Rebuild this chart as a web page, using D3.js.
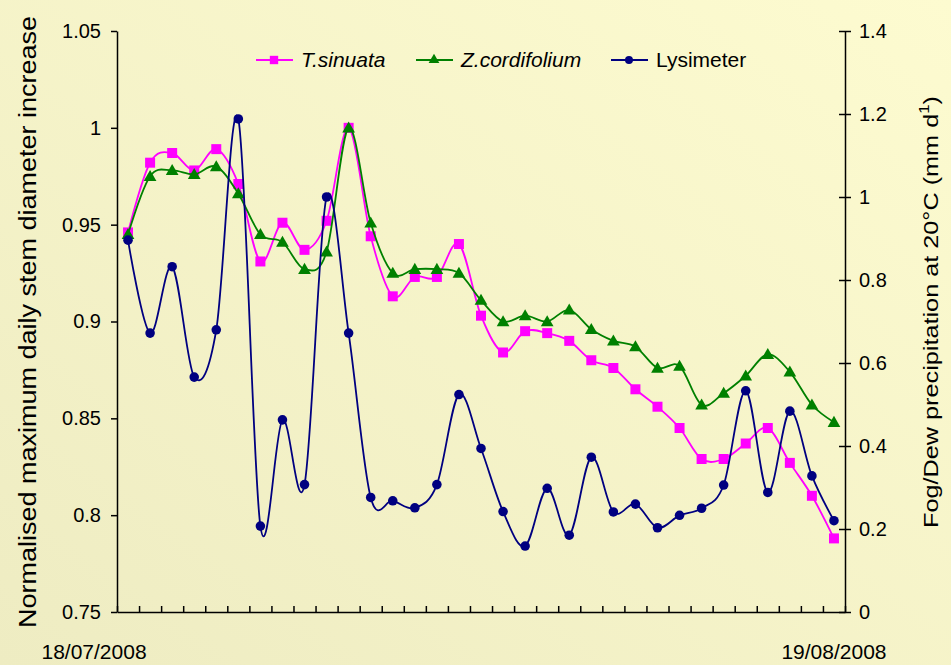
<!DOCTYPE html>
<html>
<head>
<meta charset="utf-8">
<script src="https://cdn.jsdelivr.net/npm/d3@7"></script>
<style>
  html, body { margin: 0; padding: 0; }
  body { width: 951px; height: 665px; overflow: hidden; }
  svg text { font-family: "Liberation Sans", Arial, sans-serif; fill: #000; }
  .axis path, .axis line { stroke: #000; stroke-width: 1.5; }
  .axis text { font-size: 20px; }
</style>
</head>
<body>
<div id="chart"></div>
<script>
// Categories: one per day, 18/07/2008 .. 19/08/2008
const days = d3.timeDays(new Date(2008, 6, 18), new Date(2008, 7, 20));

// Normalised maximum daily stem diameter increase (left axis)
const tSinuata = [0.946, 0.982, 0.987, 0.978, 0.989, 0.971, 0.931, 0.951, 0.937, 0.952,
    1.000, 0.944, 0.913, 0.923, 0.923, 0.940, 0.903, 0.884, 0.895, 0.894,
    0.890, 0.880, 0.876, 0.865, 0.856, 0.845, 0.829, 0.829, 0.837, 0.845,
    0.827, 0.810, 0.788];
const zCordifolium = [0.945, 0.975, 0.978, 0.976, 0.980, 0.966, 0.945, 0.941, 0.927, 0.936,
    1.000, 0.951, 0.925, 0.927, 0.927, 0.925, 0.911, 0.900, 0.903, 0.900,
    0.906, 0.896, 0.890, 0.887, 0.876, 0.877, 0.857, 0.863, 0.872, 0.883,
    0.874, 0.857, 0.848];

// Fog/Dew precipitation (right axis)
const lysimeter = [0.896, 0.672, 0.832, 0.566, 0.680, 1.188, 0.207, 0.463, 0.307, 1.000,
    0.672, 0.276, 0.268, 0.251, 0.307, 0.524, 0.394, 0.242, 0.159, 0.298,
    0.185, 0.373, 0.241, 0.260, 0.203, 0.233, 0.250, 0.306, 0.533, 0.288,
    0.484, 0.328, 0.220];

const leftTicks = [0.75, 0.8, 0.85, 0.9, 0.95, 1, 1.05];
const rightTicks = [0, 0.2, 0.4, 0.6, 0.8, 1, 1.2, 1.4];

const chart = {
    totalWidth: 951,
    totalHeight: 665,
    margin: { top: 31, bottom: 53, left: 117, right: 106 }
};
chart.width = chart.totalWidth - chart.margin.left - chart.margin.right;
chart.height = chart.totalHeight - chart.margin.top - chart.margin.bottom;

const svg = d3.select('#chart')
    .append('svg')
    .attr('width', chart.totalWidth)
    .attr('height', chart.totalHeight);

// Background gradient
const grad = svg.append('defs').append('linearGradient')
    .attr('id', 'bg')
    .attr('x1', '0%').attr('y1', '100%')
    .attr('x2', '100%').attr('y2', '0%');
grad.append('stop').attr('offset', '0%').attr('stop-color', '#eeecc2');
grad.append('stop').attr('offset', '100%').attr('stop-color', '#fdfbd0');

svg.append('rect')
    .attr('width', chart.totalWidth)
    .attr('height', chart.totalHeight)
    .attr('fill', 'url(#bg)');

const g = svg.append('g')
    .attr('transform', `translate(${chart.margin.left}, ${chart.margin.top})`);

// Scales
const xScale = d3.scalePoint()
    .domain(d3.range(days.length))
    .range([0, chart.width])
    .padding(0.5);

const xEdge = d3.scaleLinear()
    .domain([0, days.length])
    .range([0, chart.width]);

const yLeft = d3.scaleLinear()
    .domain([0.75, 1.05])
    .range([chart.height, 0]);

const yRight = d3.scaleLinear()
    .domain([0, 1.4])
    .range([chart.height, 0]);

// Axes
g.append('g')
    .classed('axis', true)
    .call(d3.axisLeft(yLeft)
        .tickValues(leftTicks)
        .tickSize(6)
        .tickPadding(10)
        .tickSizeOuter(0)
        .tickFormat(d => String(+d.toFixed(2))));

const rAxis = g.append('g')
    .classed('axis', true)
    .attr('transform', `translate(${chart.width}, 0)`)
    .call(d3.axisRight(yRight)
        .tickValues(rightTicks)
        .tickSize(6)
        .tickPadding(8)
        .tickSizeOuter(0)
        .tickFormat(d => String(+d.toFixed(1))));
rAxis.selectAll('.tick line').attr('x1', -6);

g.append('g')
    .classed('axis', true)
    .attr('transform', `translate(0, ${chart.height})`)
    .call(d3.axisBottom(xEdge)
        .tickValues(d3.range(days.length + 1))
        .tickSize(-6)
        .tickSizeOuter(0)
        .tickFormat(''));

g.selectAll('.axis text').attr('font-size', 20);

// Date labels (first and last day)
const fmt = d3.timeFormat('%d/%m/%Y');
[0, days.length - 1].forEach((idx, k) => {
    g.append('text')
        .attr('x', xScale(idx) + (k === 0 ? -34 : 0))
        .attr('y', chart.height + 47)
        .attr('text-anchor', 'middle')
        .attr('font-size', 21)
        .text(fmt(days[idx]));
});

// Axis titles
svg.append('text')
    .attr('transform', `translate(36, 322) rotate(-90)`)
    .attr('text-anchor', 'middle')
    .attr('font-size', 23)
    .attr('textLength', 612)
    .attr('lengthAdjust', 'spacingAndGlyphs')
    .text('Normalised maximum daily stem diameter increase');

const rt = svg.append('text')
    .attr('transform', `translate(938, 312) rotate(-90)`)
    .attr('text-anchor', 'middle')
    .attr('font-size', 21);
rt.append('tspan').text('Fog/Dew precipitation at 20°C (mm d');
rt.append('tspan').attr('dy', -9).attr('font-size', 14).text('1');
rt.append('tspan').attr('dy', 9).text(')');
// stretch the right title to the reference length
const rtLen = rt.node().getComputedTextLength();
rt.attr('transform', `translate(938, 312) rotate(-90) scale(${432 / rtLen}, 1)`);

// Series
const series = [
    { id: 'T.sinuata', values: tSinuata, y: yLeft, color: '#ff00ff', marker: 'square', italic: true },
    { id: 'Z.cordifolium', values: zCordifolium, y: yLeft, color: '#008000', marker: 'triangle', italic: true },
    { id: 'Lysimeter', values: lysimeter, y: yRight, color: '#000080', marker: 'circle', italic: false }
];

const symbols = {
    square: d3.symbol().type(d3.symbolSquare).size(100),
    triangle: d3.symbol().type(d3.symbolTriangle).size(70),
    circle: d3.symbol().type(d3.symbolCircle).size(72)
};

series.forEach(s => {
    const line = d3.line()
        .curve(d3.curveCatmullRom.alpha(0))
        .x((d, i) => xScale(i))
        .y(d => s.y(d));

    g.append('path')
        .attr('d', line(s.values))
        .attr('fill', 'none')
        .attr('stroke', s.color)
        .attr('stroke-width', 1.8);

    g.append('g')
        .selectAll('path')
        .data(s.values)
        .enter()
        .append('path')
        .attr('d', symbols[s.marker])
        .attr('transform', (d, i) => `translate(${xScale(i)}, ${s.y(d) + (s.marker === 'triangle' ? 1 : 0)})`)
        .attr('fill', s.color);
});

// Legend
const legendX = [256, 416, 611];
const legend = svg.append('g').attr('transform', 'translate(0, 60)');
series.forEach((s, i) => {
    const item = legend.append('g').attr('transform', `translate(${legendX[i]}, 0)`);
    item.append('line')
        .attr('x1', 0).attr('x2', 37)
        .attr('stroke', s.color)
        .attr('stroke-width', 1.8);
    item.append('path')
        .attr('d', s.marker === 'circle'
            ? d3.symbol().type(d3.symbolCircle).size(50)()
            : s.marker === 'triangle'
                ? d3.symbol().type(d3.symbolTriangle).size(50)()
                : d3.symbol().type(d3.symbolSquare).size(70)())
        .attr('transform', 'translate(18, 0)')
        .attr('fill', s.color);
    item.append('text')
        .attr('x', 45)
        .attr('y', 7)
        .attr('font-size', 21)
        .attr('font-style', s.italic ? 'italic' : 'normal')
        .text(s.id);
});
</script>
</body>
</html>
